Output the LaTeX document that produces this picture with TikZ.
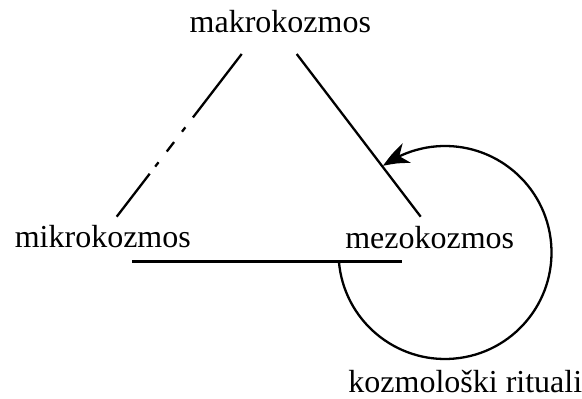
\documentclass[tikz,border=0pt]{standalone}
\usepackage{fontspec}
\setmainfont{Liberation Serif}
\usetikzlibrary{arrows.meta,bending}
\tikzset{
  lbl/.style={inner sep=0pt, anchor=base, font=\fontsize{32}{38}\selectfont},
  ln/.style={line width=2.3pt, line cap=butt},
}
\begin{document}
\begin{tikzpicture}[x=1pt,y=1pt]
\useasboundingbox (0,0) rectangle (582,399);
\node[lbl] (makro) at (280.3,366) {makrokozmos};
\node[lbl] (mikro) at (102.8,151.7) {mikrokozmos};
\node[lbl] (mezo) at (429.7,150.7) {mezokozmos};
\node[lbl] (rit) at (465.3,6) {kozmološki rituali};
\coordinate (L1) at (241.7,345);
\coordinate (L2) at (116.7,182.3);
\coordinate (R1) at (296.7,345);
\coordinate (R2) at (420.7,182.3);
\coordinate (H1) at (132,137.5);
\coordinate (H2) at (402,137.5);
\coordinate (A0) at (338.9,137.5);
\draw[ln, dash pattern=on 80pt off 12.5pt on 5.5pt off 13pt on 12pt off 13.5pt on 5.5pt off 9pt on 100pt] (L1) -- (L2);
\draw[ln] (R1) -- (R2);
\draw[ln] (H1) -- (H2);
\draw[ln, -{Stealth[length=27pt,width=21pt,inset=8pt,bend]}] (A0) arc[start angle=184.85, end angle=485.6, radius=106.5];
\end{tikzpicture}
\end{document}
